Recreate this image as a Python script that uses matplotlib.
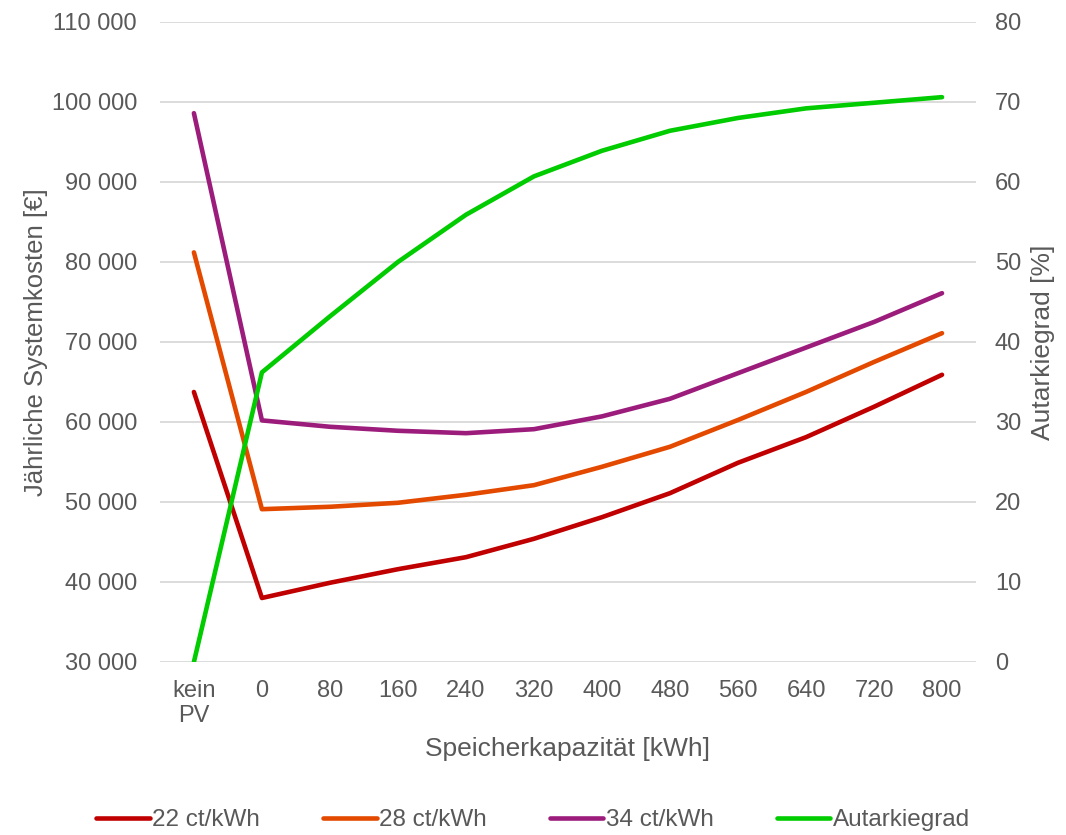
import matplotlib.pyplot as plt
from matplotlib.ticker import FuncFormatter, MultipleLocator

plt.rcParams['font.family'] = ['Liberation Sans', 'DejaVu Sans']

# data
categories = ['kein\nPV', '0', '80', '160', '240', '320', '400', '480', '560', '640', '720', '800']
cost_22 = [63750, 38000, 39900, 41600, 43100, 45400, 48100, 51100, 54900, 58100, 61900, 65900]
cost_28 = [81200, 49100, 49400, 49900, 50900, 52100, 54400, 56900, 60250, 63750, 67500, 71100]
cost_34 = [98600, 60200, 59400, 58900, 58600, 59100, 60700, 62900, 66100, 69300, 72500, 76100]
autarkie = [0, 36.2, 43.2, 50.0, 55.9, 60.7, 63.9, 66.4, 68.0, 69.2, 69.9, 70.6]

grey = '#595959'
fs = 17
fs_lab = 19

fig = plt.figure(figsize=(10.66, 8.35), dpi=100)
ax = fig.add_axes([0.150, 0.2072, 0.7656, 0.7665])
ax2 = ax.twinx()

x = list(range(len(categories)))
l1, = ax.plot(x, cost_22, color='#C00000', lw=3.3, solid_capstyle='round', label='22 ct/kWh')
l2, = ax.plot(x, cost_28, color='#E34A00', lw=3.3, solid_capstyle='round', label='28 ct/kWh')
l3, = ax.plot(x, cost_34, color='#9C1C7C', lw=3.3, solid_capstyle='round', label='34 ct/kWh')
l4, = ax2.plot(x, autarkie, color='#00CC00', lw=3.3, solid_capstyle='round', label='Autarkiegrad')

ax.set_xlim(-0.5, len(categories) - 0.5)
ax.set_ylim(30000, 110000)
ax2.set_ylim(0, 80)
ax.yaxis.set_major_locator(MultipleLocator(10000))
ax2.yaxis.set_major_locator(MultipleLocator(10))
ax.yaxis.set_major_formatter(FuncFormatter(lambda v, p: f'{int(v):,}'.replace(',', ' ')))

ax.set_xticks(x)
ax.set_xticklabels(categories, linespacing=1.2)
ax.grid(axis='y', color='#D9D9D9', lw=1.3)
ax.set_axisbelow(True)

for a in (ax, ax2):
    for s in a.spines.values():
        s.set_visible(False)
    a.tick_params(length=0, labelsize=fs, labelcolor=grey)
ax.tick_params(axis='y', pad=16.5)
ax2.tick_params(axis='y', pad=13.5)
ax.tick_params(axis='x', pad=13)

ax.set_xlabel('Speicherkapazität [kWh]', fontsize=fs_lab, color=grey)
ax.xaxis.set_label_coords(0.5, -0.117)
ax.set_ylabel('Jährliche Systemkosten [€]', fontsize=18.5, color=grey, labelpad=2.5)
ax2.set_ylabel('Autarkiegrad [%]', fontsize=fs_lab, color=grey, labelpad=7)

leg = fig.legend(handles=[l1, l2, l3, l4], loc='lower center', bbox_to_anchor=(0.5, -0.022),
                 ncol=4, frameon=False, fontsize=17.5, handlelength=2.2, handletextpad=0.1,
                 columnspacing=2.6)
for t in leg.get_texts():
    t.set_color(grey)

fig.savefig('out.png', dpi=100)
